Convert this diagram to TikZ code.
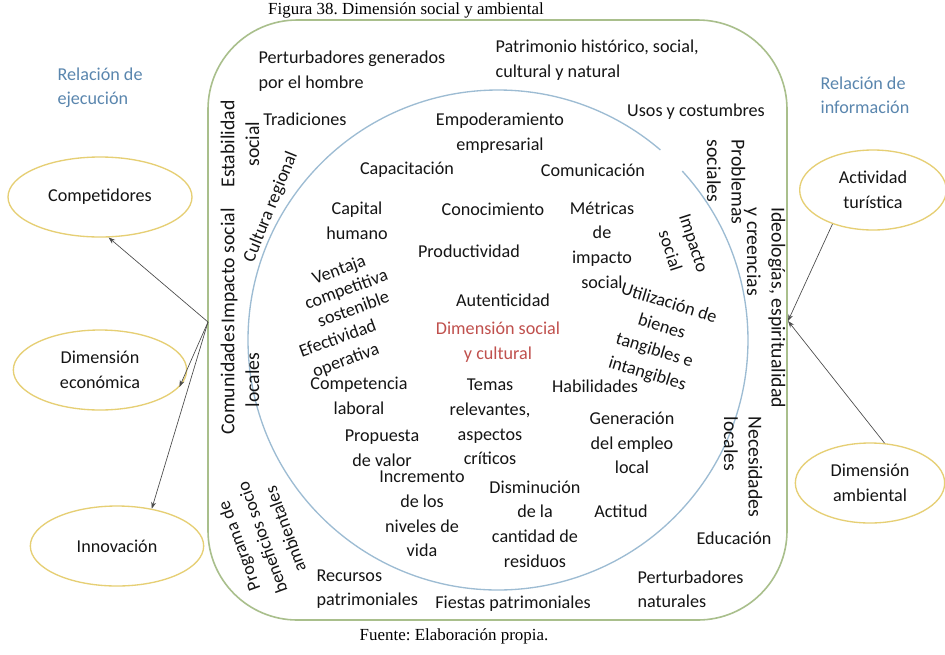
\documentclass[tikz,border=0pt]{standalone}
\usepackage{fontspec}
\setmainfont{Carlito}
\newfontfamily\seriff{Liberation Serif}
\usetikzlibrary{shapes.geometric,arrows.meta}
\definecolor{framegreen}{HTML}{A9BF8C}
\definecolor{circblue}{HTML}{9DBCD3}
\definecolor{ellyellow}{HTML}{E6CF74}
\definecolor{relblue}{HTML}{5A86AE}
\definecolor{dimred}{HTML}{C0504D}
\definecolor{txtgray}{HTML}{151515}
\definecolor{arrgray}{HTML}{4A4A4A}
\frenchspacing
\begin{document}
\begin{tikzpicture}[x=0.75pt,y=-0.75pt,
  lbl/.style={font=\fontsize{13.6}{18.5}\selectfont, align=center, inner sep=1pt, text=txtgray},
  lbll/.style={lbl, align=left},
  side/.style={font=\fontsize{14.8}{18.5}\selectfont},
  oval/.style={ellipse, draw=ellyellow, line width=1pt, lbl},
  arr/.style={draw=arrgray, line width=0.5pt, -{Stealth[length=5pt,width=3.6pt]}},
  rel/.style={lbll, text=relblue},
  capt/.style={font=\seriff\fontsize{12.7}{15}\selectfont, inner sep=0pt}]
\useasboundingbox (0,0) rectangle (945,654);
\fill[white] (0,0) rectangle (945,654);

% frame and circle
\draw[framegreen, line width=1.2pt, rounded corners=67pt] (208,20) rectangle (787,620);
\coordinate (cc) at (498,340);
\draw[circblue, line width=1pt] ([shift={(49.5:187.5pt)}]cc) arc[start angle=49.5, end angle=402.5, radius=187.5pt];

% captions
\node[capt] (title) at (406,10) {Figura 38. Dimensión social y ambiental};
\node[capt] (fuente) at (454,636) {Fuente: Elaboración propia.};

% relation labels
\node[rel, anchor=north west] (rej) at (56,66) {Relación de\\ejecución};
\node[rel, anchor=north west] (rinf) at (819,75) {Relación de\\información};

% ellipses
\node[oval, minimum width=138pt, minimum height=60pt] (comp) at (100,197) {Competidores};
\node[oval, minimum width=130pt, minimum height=60pt] (econ) at (100,370) {Dimensión\\económica};
\node[oval, minimum width=130pt, minimum height=60pt] (innov) at (117,546) {Innovación};
\node[oval, minimum width=110pt, minimum height=60pt] (act) at (873,190) {Actividad\\turística};
\node[oval, minimum width=112pt, minimum height=60pt] (amb) at (870,483) {Dimensión\\ambiental};

% outer ring texts
\node[lbll, anchor=north west, font=\fontsize{13.6}{19.3}\selectfont] (pgen) at (257,49) {Perturbadores generados\\por el hombre};
\node[lbll, anchor=north west, font=\fontsize{13.6}{19}\selectfont] (patr) at (494,38) {Patrimonio histórico, social,\\cultural y natural};
\node[lbl] (trad) at (305,119) {Tradiciones};
\node[lbl] (usos) at (696,112) {Usos y costumbres};
\node[lbl, side, rotate=90] (estab) at (240,144) {Estabilidad\\social};
\node[lbl, rotate=68] (cult) at (271,207) {Cultura regional};
\node[lbl, side, rotate=90] (imps) at (229,266) {Impacto social};
\node[lbl, side, rotate=90] (comun) at (240,380) {Comunidades\\locales};
\node[lbl, rotate=110] (prog) at (262,538) {Programa de\\beneficios socio\\ambientales};
\node[lbll, side, rotate=-90, anchor=north west] (probl) at (747,138) {Problemas\\sociales};
\node[lbll, side, rotate=-90, anchor=north west] (ideo) at (787,206) {Ideologías, espiritualidad\\y creencias};
\node[lbll, side, rotate=-90, anchor=north west] (neces) at (764,415) {Necesidades\\locales};
\node[lbl] (educ) at (734,538) {Educación};
\node[lbll, anchor=north west] (recur) at (315,568) {Recursos\\patrimoniales};
\node[lbl] (fiest) at (513,604) {Fiestas patrimoniales};
\node[lbll, anchor=north west] (pnat) at (636,569) {Perturbadores\\naturales};

% inner circle texts
\node[lbl] (empod) at (500,133) {Empoderamiento\\empresarial};
\node[lbl] (capac) at (407,170) {Capacitación};
\node[lbl] (comunic) at (593,170) {Comunicación};
\node[lbl] (capit) at (357,221) {Capital\\humano};
\node[lbl] (conoc) at (493,209) {Conocimiento};
\node[lbl] (metr) at (602,245) {Métricas\\de\\impacto\\social};
\node[lbl] (prod) at (469,251) {Productividad};
\node[lbl, rotate=-72] (impin) at (682,247) {Impacto\\social};
\node[lbl, rotate=-17] (util) at (658,339) {Utilización de\\bienes\\tangibles e\\intangibles};
\node[lbl, rotate=20, font=\fontsize{13.6}{15.8}\selectfont] (venta) at (346,289) {Ventaja\\competitiva\\sostenible};
\node[lbl, rotate=20, fill=white, inner sep=0.3pt, font=\fontsize{13.6}{17.5}\selectfont] (efect) at (342,350) {Efectividad\\operativa};
\node[lbl] (autent) at (503,300) {Autenticidad};
\node[lbl, text=dimred] (dimsc) at (498,342) {Dimensión social\\y cultural};
\node[lbl, fill=white, inner sep=0.3pt] (compet) at (359,396) {Competencia\\laboral};
\node[lbl] (temas) at (490,422) {Temas\\relevantes,\\aspectos\\críticos};
\node[lbl] (habil) at (595,386) {Habilidades};
\node[lbl] (gener) at (632,443) {Generación\\del empleo\\local};
\node[lbl] (prop) at (382,448) {Propuesta\\de valor};
\node[lbl] (incr) at (422,514) {Incremento\\de los\\niveles de\\vida};
\node[lbl] (dismi) at (535,524) {Disminución\\de la\\cantidad de\\residuos};
\node[lbl] (actit) at (621,511) {Actitud};

% connectors
\coordinate (L) at (208,322);
\coordinate (R) at (788,321);
\draw[arr] (L) -- (comp.-78);
\draw[arr] (L) -- (econ.-12);
\draw[arr] (L) -- (innov.47);
\draw[arr] (act.-140) -- (R);
\draw[arr] (amb.70) -- (R);
\end{tikzpicture}
\end{document}
